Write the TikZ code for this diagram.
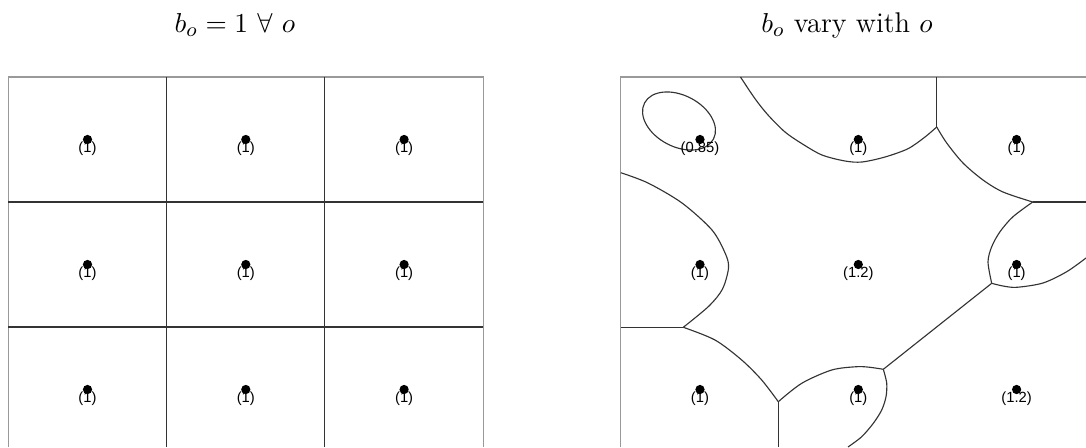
\documentclass[tikz,border=0pt]{standalone}
\usepackage{fontspec}
\newfontfamily\labelfont{Liberation Sans}

\definecolor{framegray}{gray}{0.6}
\definecolor{linegray}{gray}{0.2}

\tikzset{
  panelbox/.style={draw=framegray,line width=0.5pt},
  cellline/.style={draw=linegray,line width=0.45pt},
  site/.style={circle,fill=black,inner sep=0pt,minimum size=3.7pt},
  sitelabel/.style={font=\labelfont\fontsize{5.9}{6}\selectfont,inner sep=0pt,anchor=base},
  paneltitle/.style={font=\fontsize{11.4}{14}\selectfont,inner sep=0pt,anchor=base}
}

\begin{document}
\begin{tikzpicture}[x=0.4pt,y=-0.4pt]
  \pgfmathsetmacro\cellw{158.3}
  \pgfmathsetmacro\cellh{125.0}
  \pgfmathsetmacro\rshift{612.5}
  \useasboundingbox (0,0) rectangle (1086,447);

% titles
  \node[paneltitle] (tequal) at (235,32.7) {$b_o = 1 \ \forall\ o$};
  \node[paneltitle] (tvary) at (847,32.7) {$b_o$ vary with $o$};

% left panel: frame and square cells
  \draw[panelbox] (8.3,447) -- (8.3,77) -- (483.2,77) -- (483.2,447);
  \foreach \i in {1,2} {
      \draw[cellline] (8.3+\i*\cellw,77) -- (8.3+\i*\cellw,447);
      \draw[cellline] (8.3,77+\i*\cellh) -- (483.2,77+\i*\cellh);
  }

% left panel: sites, all b = 1
  \foreach \x in {0,...,2} {
    \foreach \y in {0,...,2} {
        \node[site] (eq\x\y) at (87.5+\x*\cellw,139.5+\y*\cellh) {};
        \node[sitelabel] (eqb\x\y) at (87.5+\x*\cellw,152.5+\y*\cellh) {(1)};
    }
  }

% right panel: frame
  \draw[panelbox] (620.8,447) -- (620.8,77) -- (1086,77);

% right panel: weighted cells
  \draw[cellline,rotate around={-27.6:(679,121)}] (679,121) ellipse (38.9 and 25.7); % 0.85
  \draw[cellline] plot[smooth] coordinates {(740.5,77) (755,98.7) (768,115) (785,132) (802,143.7) (822,155) (845,161) (862,162) (885,157) (908,148.7) (925,137) (936.7,127)};
  \draw[cellline] (936.7,77) -- (936.7,127);
  \draw[cellline] plot[smooth] coordinates {(936.7,127) (946.7,143) (963,163) (983,180) (1003,192) (1032.7,202)};
  \draw[cellline] (1032.7,202) -- (1086,202);
  \draw[cellline] plot[smooth] coordinates {(1032.7,202) (1013,216.7) (1000,231.7) (991.7,246.7) (988,262) (991.7,283.3)};
  \draw[cellline] plot[smooth] coordinates {(991.7,283.3) (1003,286) (1016.7,287.3) (1043,283) (1066.7,271.7) (1086,258)};
  \draw[cellline] (991.7,283.3) -- (883.3,369.3);                 % 1.2 | 1.2
  \draw[cellline] plot[smooth] coordinates {(883.3,369.3) (886.7,383) (886,396.7) (881.7,410) (873.3,423.3) (861.7,436.7) (848,447)};
  \draw[cellline] plot[smooth] coordinates {(883.3,369.3) (870,367.3) (856.7,366.7) (831.7,370) (801.7,383.3) (778.3,401.7)};
  \draw[cellline] (778.3,401.7) -- (778.3,447);
  \draw[cellline] plot[smooth] coordinates {(683.3,327.3) (715,340) (741.7,360) (761.7,380) (778.3,401.7)};
  \draw[cellline] (620.8,327.3) -- (683.3,327.3);
  \draw[cellline] plot[smooth] coordinates {(620.8,172.7) (648,183) (682,203) (712,230) (725.5,254) (728.5,268) (722.5,289) (709,306) (683.3,327.3)};

% right panel: sites with their b
  \foreach \x/\y/\b in {0/0/0.85, 1/0/1, 2/0/1, 0/1/1, 1/1/1.2, 2/1/1, 0/2/1, 1/2/1, 2/2/1.2} {
      \node[site] (vs\x\y) at (\rshift+87.5+\x*\cellw,139.5+\y*\cellh) {};
      \node[sitelabel] (vsb\x\y) at (\rshift+87.5+\x*\cellw,152.5+\y*\cellh) {(\b)};
  }

\end{tikzpicture}
\end{document}
